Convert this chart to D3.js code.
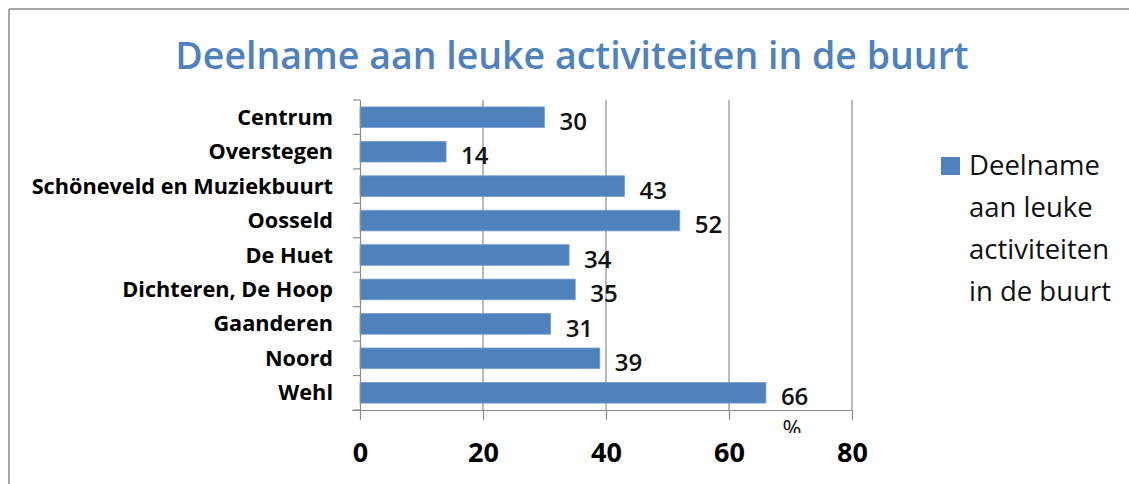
<!DOCTYPE html>
<html>
<head>
<meta charset="utf-8">
<script src="https://cdn.jsdelivr.net/npm/d3@7/dist/d3.min.js"></script>
<style>
  html, body { margin: 0; padding: 0; background: #fff; }
  svg { display: block; }
</style>
</head>
<body>
<svg id="chart" width="1129" height="484"></svg>
<script>
const categories = ["Centrum", "Overstegen", "Schöneveld en Muziekbuurt", "Oosseld", "De Huet", "Dichteren, De Hoop", "Gaanderen", "Noord", "Wehl"];
const values = [30, 14, 43, 52, 34, 35, 31, 39, 66];
const xTicks = [0, 20, 40, 60, 80];
const titleText = "Deelname aan leuke activiteiten in de buurt";
const legendLines = ["Deelname", "aan leuke", "activiteiten", "in de buurt"];
const axisTitle = "%";

const svg = d3.select("#chart");
const FONT = "'Open Sans', 'Noto Sans', sans-serif";
const BLUE = "#4F81BD";
const GRID = "#8c8c8c";

// frame
svg.append("line").attr("x1", 9).attr("x2", 1129).attr("y1", 9).attr("y2", 9)
  .attr("stroke", "#a6a6a6").attr("stroke-width", 2);
svg.append("line").attr("x1", 9).attr("x2", 9).attr("y1", 9).attr("y2", 484)
  .attr("stroke", "#a6a6a6").attr("stroke-width", 2);

// title
svg.append("text").attr("x", 572).attr("y", 69).attr("text-anchor", "middle")
  .attr("font-family", FONT).attr("font-weight", 600).attr("font-size", 37.5)
  .attr("fill", BLUE).text(titleText);

const x = d3.scaleLinear().domain([0, 80]).range([360, 852]);
const y = d3.scaleBand().domain(categories).range([100, 410]).paddingInner(0.4).paddingOuter(0.2);

// gridlines
svg.append("g").selectAll("line").data(xTicks.filter(d => d > 0)).join("line")
  .attr("x1", d => x(d)).attr("x2", d => x(d)).attr("y1", 100).attr("y2", 410)
  .attr("stroke", GRID).attr("stroke-width", 1.2);

// bars
svg.append("g").selectAll("rect").data(values).join("rect")
  .attr("x", x(0)).attr("y", (d, i) => y(categories[i]))
  .attr("width", d => x(d) - x(0)).attr("height", y.bandwidth())
  .attr("fill", BLUE).attr("stroke", "#7a9fd0").attr("stroke-width", 0.8);

// x axis
const xAxis = d3.axisBottom(x).tickValues(xTicks).tickSize(10).tickPadding(22);
const gx = svg.append("g").attr("transform", "translate(0,410)").call(xAxis);
gx.select(".domain").attr("d", `M352,0.5H${x(80)}`).attr("stroke", GRID).attr("stroke-width", 1.2);
gx.selectAll(".tick line").attr("stroke", GRID).attr("stroke-width", 1.2);
gx.selectAll(".tick text").attr("font-family", FONT).attr("font-weight", 700)
  .attr("font-size", 27).attr("fill", "#000").attr("dy", "0.75em");

// y axis
const yAxis = d3.axisLeft(y).tickSize(0).tickPadding(27);
const gy = svg.append("g").attr("transform", `translate(${x(0)},0)`).call(yAxis);
gy.select(".domain").attr("d", "M0.5,100V410").attr("stroke", GRID).attr("stroke-width", 1.2);
gy.selectAll(".tick text").attr("font-family", FONT).attr("font-weight", 700)
  .attr("font-size", 21.7).attr("fill", "#000").attr("dy", "0.35em");
// category boundary ticks
const bounds = categories.map(c => y(c) - y.step() * y.paddingInner() / 2).concat([410]);
svg.append("g").selectAll("line").data(bounds).join("line")
  .attr("x1", 353).attr("x2", 360).attr("y1", d => d).attr("y2", d => d)
  .attr("stroke", GRID).attr("stroke-width", 1.2);

// value labels
svg.append("g").selectAll("text").data(values).join("text")
  .attr("x", d => x(d) + 15).attr("y", (d, i) => y(categories[i]) + y.bandwidth() / 2 + 4)
  .attr("dy", "0.36em")
  .attr("font-family", FONT).attr("font-weight", 600).attr("font-size", 24)
  .attr("fill", "#111").text(d => d);

// axis title (clipped as in reference)
svg.append("clipPath").attr("id", "pclip").append("rect")
  .attr("x", 700).attr("y", 412).attr("width", 200).attr("height", 21);
svg.append("text").attr("x", 792).attr("y", 437).attr("text-anchor", "middle")
  .attr("clip-path", "url(#pclip)")
  .attr("font-family", FONT).attr("font-size", 23).attr("fill", "#111").text(axisTitle);

// legend
svg.append("rect").attr("x", 941).attr("y", 157).attr("width", 19).attr("height", 18)
  .attr("fill", BLUE);
svg.append("g").selectAll("text").data(legendLines).join("text")
  .attr("x", 969).attr("y", (d, i) => 175 + i * 42)
  .attr("font-family", FONT).attr("font-size", 27.5).attr("fill", "#111").text(d => d);
</script>
</body>
</html>
